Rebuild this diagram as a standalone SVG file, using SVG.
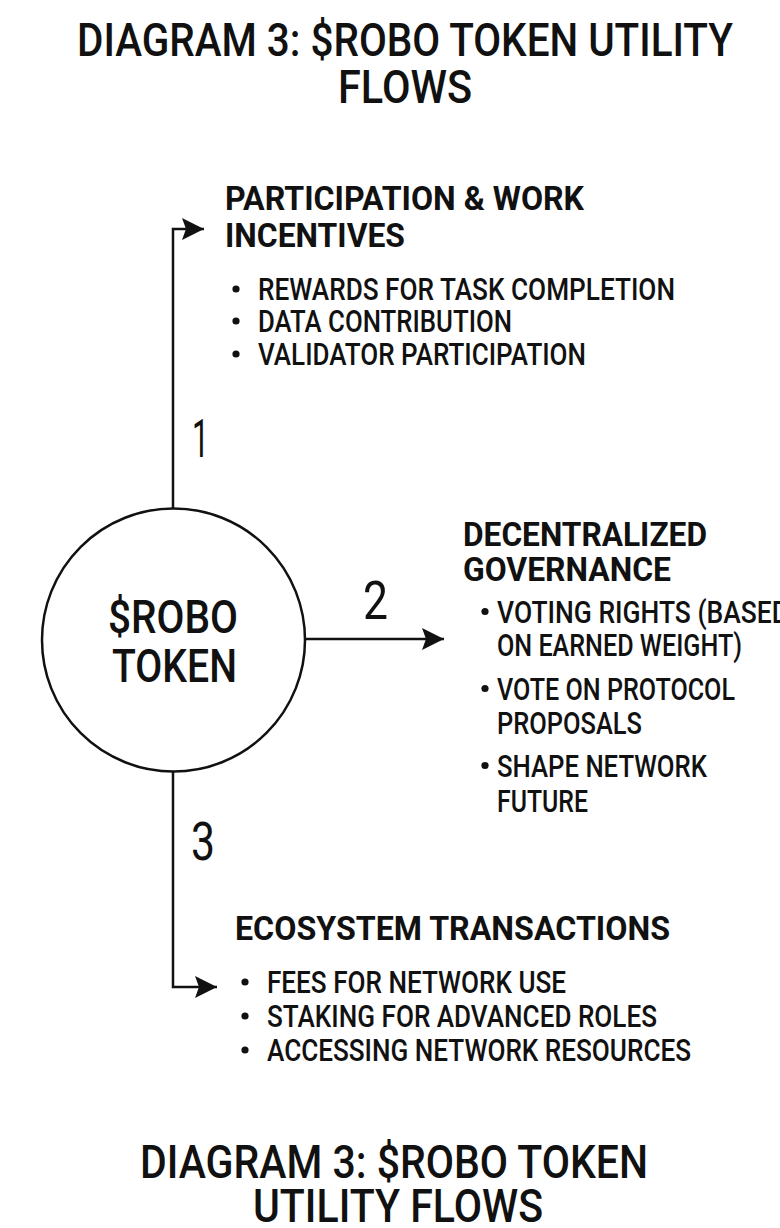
<svg xmlns="http://www.w3.org/2000/svg" width="780" height="1228" viewBox="0 0 780 1228">
<style>
text{font-family:Roboto,"Liberation Sans",sans-serif;fill:#111}
.title{font-size:46px;font-weight:500}
.head{font-size:34px;font-weight:700}
.item{font-size:31px;font-weight:500}
.item2{font-size:32px;font-weight:500}
.bul{fill:#111}
.num{font-size:53px;font-weight:400}
.node{font-size:46px;font-weight:500}
.conn{fill:none;stroke:#111;stroke-width:2.5}
</style>
<defs>
<marker id="arr" markerUnits="userSpaceOnUse" markerWidth="24" markerHeight="22" refX="22" refY="11" orient="auto">
<path d="M0,0 L22,11 L0,22 L4,11 z" fill="#111"/>
</marker>
</defs>
<rect width="780" height="1228" fill="#fff"/>
<g id="title-top">
<text class="title" x="77" y="56" textLength="656" lengthAdjust="spacingAndGlyphs">DIAGRAM 3: $ROBO TOKEN UTILITY</text>
<text class="title" x="338" y="103" textLength="134" lengthAdjust="spacingAndGlyphs">FLOWS</text>
</g>
<g id="connectors">
<path class="conn" d="M173,508 V229 H204" marker-end="url(#arr)"/>
<path class="conn" d="M305,639 H444" marker-end="url(#arr)"/>
<path class="conn" d="M173,772 V987 H217" marker-end="url(#arr)"/>
<text class="num" x="192" y="457" textLength="17" lengthAdjust="spacingAndGlyphs">1</text>
<text class="num" x="363" y="619" textLength="25" lengthAdjust="spacingAndGlyphs">2</text>
<text class="num" x="191" y="860" textLength="24" lengthAdjust="spacingAndGlyphs">3</text>
</g>
<g id="robo-token">
<circle cx="173.5" cy="640" r="131.5" fill="#fff" stroke="#111" stroke-width="2.5"/>
<text class="node" x="108" y="633" textLength="130" lengthAdjust="spacingAndGlyphs">$ROBO</text>
<text class="node" x="112" y="682" textLength="125" lengthAdjust="spacingAndGlyphs">TOKEN</text>
</g>
<g id="participation">
<text class="head" x="225" y="210" textLength="359" lengthAdjust="spacingAndGlyphs">PARTICIPATION &amp; WORK</text>
<text class="head" x="225" y="247" textLength="180" lengthAdjust="spacingAndGlyphs">INCENTIVES</text>
<circle class="bul" cx="236" cy="289" r="3.6"/>
<text class="item" x="258" y="300" textLength="417" lengthAdjust="spacingAndGlyphs">REWARDS FOR TASK COMPLETION</text>
<circle class="bul" cx="236" cy="321" r="3.6"/>
<text class="item" x="258" y="332" textLength="254" lengthAdjust="spacingAndGlyphs">DATA CONTRIBUTION</text>
<circle class="bul" cx="236" cy="354" r="3.6"/>
<text class="item" x="258" y="365" textLength="328" lengthAdjust="spacingAndGlyphs">VALIDATOR PARTICIPATION</text>
</g>
<g id="governance">
<text class="head" x="463" y="546" textLength="244" lengthAdjust="spacingAndGlyphs">DECENTRALIZED</text>
<text class="head" x="463" y="581" textLength="208" lengthAdjust="spacingAndGlyphs">GOVERNANCE</text>
<circle class="bul" cx="485" cy="611.5" r="3.6"/>
<text class="item2" x="497" y="623" textLength="292" lengthAdjust="spacingAndGlyphs">VOTING RIGHTS (BASED</text>
<text class="item2" x="497" y="656" textLength="245" lengthAdjust="spacingAndGlyphs">ON EARNED WEIGHT)</text>
<circle class="bul" cx="485" cy="688.5" r="3.6"/>
<text class="item2" x="497" y="700" textLength="238" lengthAdjust="spacingAndGlyphs">VOTE ON PROTOCOL</text>
<text class="item2" x="497" y="734" textLength="145" lengthAdjust="spacingAndGlyphs">PROPOSALS</text>
<circle class="bul" cx="485" cy="765.5" r="3.6"/>
<text class="item2" x="497" y="777" textLength="210" lengthAdjust="spacingAndGlyphs">SHAPE NETWORK</text>
<text class="item2" x="497" y="812" textLength="91" lengthAdjust="spacingAndGlyphs">FUTURE</text>
</g>
<g id="ecosystem">
<text class="head" x="235" y="940" textLength="435" lengthAdjust="spacingAndGlyphs">ECOSYSTEM TRANSACTIONS</text>
<circle class="bul" cx="245" cy="982" r="3.6"/>
<text class="item" x="267" y="993" textLength="299" lengthAdjust="spacingAndGlyphs">FEES FOR NETWORK USE</text>
<circle class="bul" cx="245" cy="1016" r="3.6"/>
<text class="item" x="267" y="1027" textLength="390" lengthAdjust="spacingAndGlyphs">STAKING FOR ADVANCED ROLES</text>
<circle class="bul" cx="245" cy="1050" r="3.6"/>
<text class="item" x="267" y="1061" textLength="424" lengthAdjust="spacingAndGlyphs">ACCESSING NETWORK RESOURCES</text>
</g>
<g id="title-bottom">
<text class="title" x="140" y="1178" textLength="508" lengthAdjust="spacingAndGlyphs">DIAGRAM 3: $ROBO TOKEN</text>
<text class="title" x="253" y="1222" textLength="290" lengthAdjust="spacingAndGlyphs">UTILITY FLOWS</text>
</g>
</svg>
